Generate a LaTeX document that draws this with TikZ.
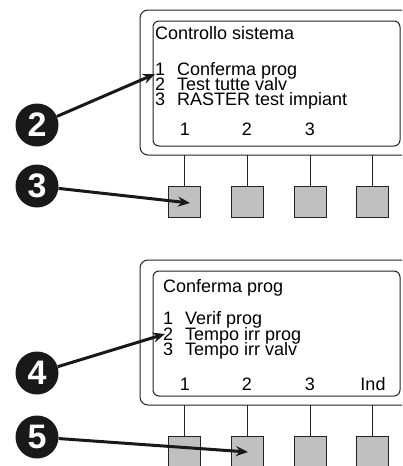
\documentclass[tikz,border=0pt]{standalone}
\usepackage{fontspec}
\setmainfont{Liberation Sans}
\usetikzlibrary{arrows.meta}
\definecolor{btngray}{HTML}{C0C0C0}
\definecolor{linegray}{HTML}{222222}
\begin{document}
\begin{tikzpicture}[x=1pt,y=-1pt,
  lcd/.style={font=\fontsize{18}{15}\selectfont, anchor=base west, inner sep=0pt, text=black},
  lbl/.style={font=\fontsize{18}{15}\selectfont, anchor=base, inner sep=0pt, text=black},
  frame/.style={draw=linegray, line width=1pt, rounded corners=8pt},
  screen/.style={draw=linegray, line width=1pt, rounded corners=6pt},
  stem/.style={draw=linegray, line width=1pt},
  btn/.style={draw=linegray, fill=btngray, line width=0.8pt, minimum width=32pt, minimum height=31pt, inner sep=0pt},
  badge/.style={circle, fill=black!90, minimum size=43pt, inner sep=0pt, text=white, font=\fontsize{34}{34}\bfseries\selectfont},
  pointer/.style={draw=black!90, line width=3pt, -{Stealth[length=12pt,width=10pt]}}
]
\useasboundingbox (0,0) rectangle (402,466);
\clip (0,0) rectangle (402,466);

% ---------- top panel ----------
\draw[frame] (140,10) rectangle (420,155);
\draw[screen] (153,21) rectangle (400,146);
\node[lcd] (t0) at (155,39) {Controllo sistema};
\node[lcd] (t1n) at (155,75) {1};
\node[lcd] (t1) at (177,75) {Conferma prog};
\node[lcd] (t2n) at (155,90) {2};
\node[lcd] (t2) at (177,90) {Test tutte valv};
\node[lcd] (t3n) at (155,105) {3};
\node[lcd] (t3) at (177,105) {RASTER test impiant};
\node[lbl] (tl1) at (185,135) {1};
\node[lbl] (tl2) at (247,135) {2};
\node[lbl] (tl3) at (310,135) {3};

\foreach \i/\x in {1/184,2/247.5,3/310,4/372.5}{
  \coordinate (ts\i) at (\x,155);
  \node[btn, anchor=north] (tb\i) at (\x,186) {};
  \draw[stem] (ts\i) -- (tb\i.north);
}

% ---------- bottom panel ----------
\draw[frame] (140,260) rectangle (420,405);
\draw[screen] (153,271) rectangle (400,396);
\node[lcd] (b0) at (163,292) {Conferma prog};
\node[lcd] (b1n) at (163,324) {1};
\node[lcd] (b1) at (185,324) {Verif prog};
\node[lcd] (b2n) at (163,340) {2};
\node[lcd] (b2) at (185,340) {Tempo irr prog};
\node[lcd] (b3n) at (163,355) {3};
\node[lcd] (b3) at (185,355) {Tempo irr valv};
\node[lbl] (bl1) at (185,390) {1};
\node[lbl] (bl2) at (247,390) {2};
\node[lbl] (bl3) at (310,390) {3};
\node[lbl] (bl4) at (373,390) {Ind};

\foreach \i/\x in {1/184,2/247.5,3/310,4/372.5}{
  \coordinate (bs\i) at (\x,405);
  \node[btn, anchor=north] (bb\i) at (\x,436) {};
  \draw[stem] (bs\i) -- (bb\i.north);
}

% ---------- badges and pointers ----------
\node[badge] (n2) at (37,125) {2};
\node[badge] (n3) at (37,186) {3};
\node[badge] (n4) at (37,373) {4};
\node[badge] (n5) at (37,437) {5};

\coordinate (p2) at (155,74);
\coordinate (p3) at (190,203);
\coordinate (p4) at (165,334);
\coordinate (p5) at (248,452);

\draw[pointer] (n2) -- (p2);
\draw[pointer] (n3) -- (p3);
\draw[pointer] (n4) -- (p4);
\draw[pointer] (n5) -- (p5);
\end{tikzpicture}
\end{document}
